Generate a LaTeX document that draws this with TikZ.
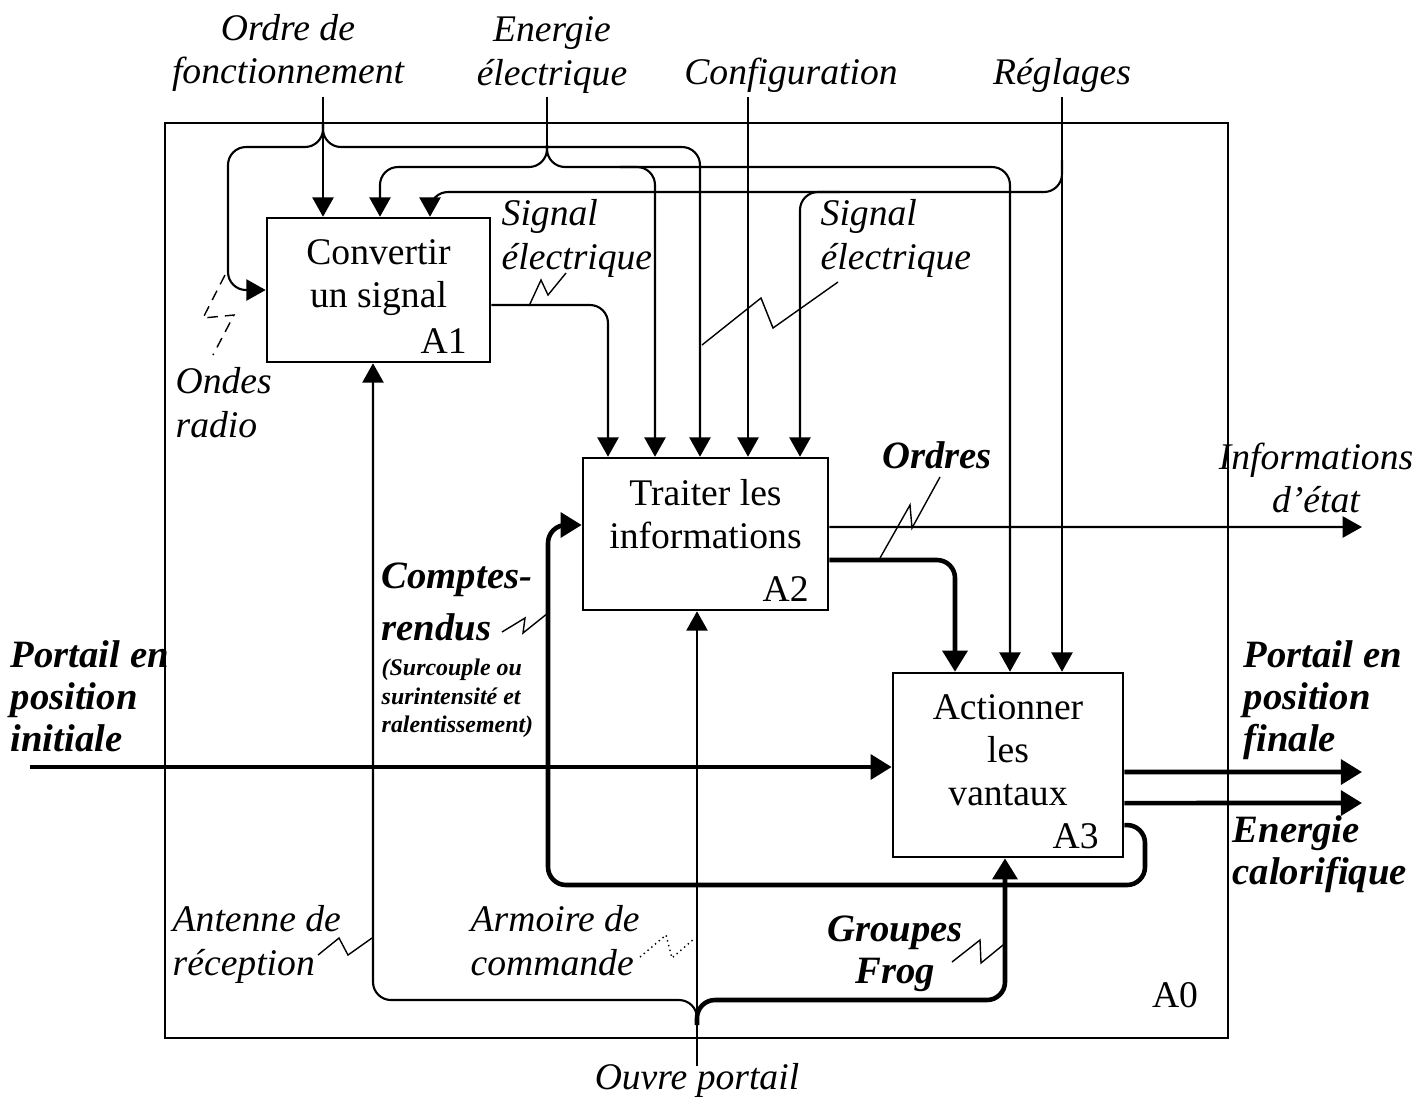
\documentclass[tikz,border=0pt]{standalone}
\usepackage{fontspec}
\setmainfont{Liberation Serif}
\usetikzlibrary{arrows.meta,positioning}
\tikzset{
  box/.style={draw,line width=0.7pt,inner sep=0pt},
  boxtext/.style={inner sep=0pt,align=center,font=\fontsize{10.7}{12.3}\selectfont},
  idx/.style={inner sep=0pt,anchor=base east,font=\fontsize{10.7}{12.3}\selectfont},
  lbl/.style={inner sep=0pt,font=\fontsize{10.7}{12.4}\selectfont\itshape},
  blbl/.style={inner sep=0pt,font=\fontsize{11}{11.9}\selectfont\bfseries\itshape},
  note/.style={inner sep=0pt,align=left,font=\fontsize{6.8}{8.2}\selectfont\bfseries\itshape},
  flow/.style={line width=0.6pt,rounded corners=0.18cm},
  arrow/.style={flow,-{Triangle[length=5.5pt,width=6pt]}},
  heavy/.style={line width=1.3pt,rounded corners=0.18cm,-{Triangle[length=6pt,width=7pt]}},
  zig/.style={line width=0.4pt}
}
\begin{document}
\begin{tikzpicture}[x=0.01cm,y=-0.01cm]
\useasboundingbox (0,0) rectangle (1427,1102);
\draw[line width=0.6pt] (165,123) rectangle (1228,1038);

\coordinate (ordre) at (323,97);
\coordinate (energie) at (547,97);
\coordinate (config) at (748,97);
\coordinate (reglages) at (1062,97);
\coordinate (ouvre) at (697,1066);
\coordinate (pin) at (30,767);
\coordinate (infoend) at (1362,527);
\coordinate (finend) at (1362,772);
\coordinate (caloend) at (1362,803);

\node[box,minimum width=2.23cm,minimum height=1.44cm] (a1) at (378.5,290) {};
\node[box,minimum width=2.45cm,minimum height=1.52cm] (a2) at (705.5,534) {};
\node[box,minimum width=2.30cm,minimum height=1.84cm] (a3) at (1008,765) {};
\node[boxtext,below=0.22cm of a1.north] (t1) {Convertir\\un signal};
\node[boxtext,below=0.22cm of a2.north] (t2) {Traiter les\\informations};
\node[boxtext,below=0.22cm of a3.north] (t3) {Actionner\\les\\vantaux};
\node[idx,xshift=-0.24cm,yshift=0.1cm] (i1) at (a1.south east) {A1};
\node[idx,xshift=-0.2cm,yshift=0.1cm] (i2) at (a2.south east) {A2};
\node[idx,xshift=-0.25cm,yshift=0.1cm] (i3) at (a3.south east) {A3};
\node[idx,anchor=center] (i0) at (1175,995) {A0};

\node[lbl,align=center] (lordre) at (288,53) {Ordre de\\fonctionnement};
\node[lbl,align=center] (lenergie) at (552,55) {Energie\\électrique};
\node[lbl] (lconfig) at (791,75) {Configuration};
\node[lbl] (lreglages) at (1062,75) {Réglages};
\node[lbl,align=left,anchor=north west] (lsig1) at (501,199) {Signal\\électrique};
\node[lbl,align=left,anchor=north west] (lsig2) at (820,199) {Signal\\électrique};
\node[lbl,align=left,anchor=north west] (londes) at (175,367) {Ondes\\radio};
\node[lbl,align=center,anchor=north] (linfo) at (1316,442) {Informations\\d’état};
\node[blbl] (lordres) at (937,455) {Ordres};
\node[blbl,align=left,anchor=north west] (lcomptes) at (381,562) {Comptes-\\[0.1cm]rendus};
\node[note,anchor=north west] (lnote) at (381,658) {(Surcouple ou\\surintensité et\\ralentissement)};
\node[blbl,align=left,anchor=north west] (lpin) at (10,640) {Portail en\\position\\initiale};
\node[blbl,align=left,anchor=north west] (lfin) at (1243,640) {Portail en\\position\\finale};
\node[blbl,align=left,anchor=north west] (lcalo) at (1232,815) {Energie\\calorifique};
\node[lbl,align=left,anchor=north west] (lantenne) at (172,905) {Antenne de\\réception};
\node[lbl,align=left,anchor=north west] (larmoire) at (470,905) {Armoire de\\commande};
\node[blbl,align=center,anchor=north] (lfrog) at (895,915) {Groupes\\Frog};
\node[lbl] (louvre) at (697,1080) {Ouvre portail};

\draw[arrow] (ordre) -- (a1.north -| ordre);
\draw[arrow] (323,122) |- (228,147) -- (228,290) -- (a1.west);
\draw[arrow] (323,122) |- (700,147) -- (a2.north -| 700,0);
\draw[flow] (energie) -- (547,150);
\draw[arrow] (547,145) |- (380,167) -- (a1.north -| 380,0);
\draw[arrow] (547,145) |- (1010,167) -- (a3.north -| 1010,0);
\draw[arrow] (620,167) -| (a2.north -| 655,0);
\draw[arrow] (config) -- (a2.north -| config);
\draw[arrow] (reglages) -- (a3.north -| reglages);
\draw[arrow] (1062,160) |- (430,192) -- (a1.north -| 430,0);
\draw[arrow] (840,192) -| (a2.north -| 800,0);

\draw[arrow] ([yshift=-0.15cm]a1.east) -| (a2.north -| 608,0);
\draw[arrow] ([yshift=0.07cm]a2.east) -- (infoend);
\draw[heavy] ([yshift=-0.26cm]a2.east) -| (a3.north -| 955,0);
\draw[heavy] (pin) -- (a3.west |- pin);
\draw[heavy] ([yshift=-0.07cm]a3.east) -- (finend);
\draw[heavy] ([yshift=-0.38cm]a3.east) -- (caloend);
\draw[heavy] ([yshift=-0.6cm]a3.east) -- (1145,825) -- (1145,885) -- (548,885) -- (548,525) -- ([yshift=0.09cm]a2.west);

\draw[arrow] (ouvre) -- (a2.south -| ouvre);
\draw[arrow] (697,1025) |- (373,1000) -- (a1.south -| 373,0);
\draw[heavy] (697,1025) |- (1005,1000) -- (a3.south -| 1005,0);

\draw[zig] (529,306) -- (541,280) -- (548,295) -- (566,273);
\draw[zig] (702,345) -- (761,298) -- (773,328) -- (838,282);
\draw[zig] (880,558) -- (910,505) -- (912,528) -- (940,477);
\draw[zig] (502,632) -- (525,618) -- (523,633) -- (548,613);
\draw[zig] (318,955) -- (339,938) -- (348,955) -- (372,938);
\draw[zig,densely dotted] (640,957) -- (666,935) -- (672,958) -- (695,938);
\draw[zig,densely dashed] (225,275) -- (203,318) -- (234,315) -- (213,355);
\draw[zig] (952,962) -- (980,940) -- (981,963) -- (1003,945);
\end{tikzpicture}
\end{document}
